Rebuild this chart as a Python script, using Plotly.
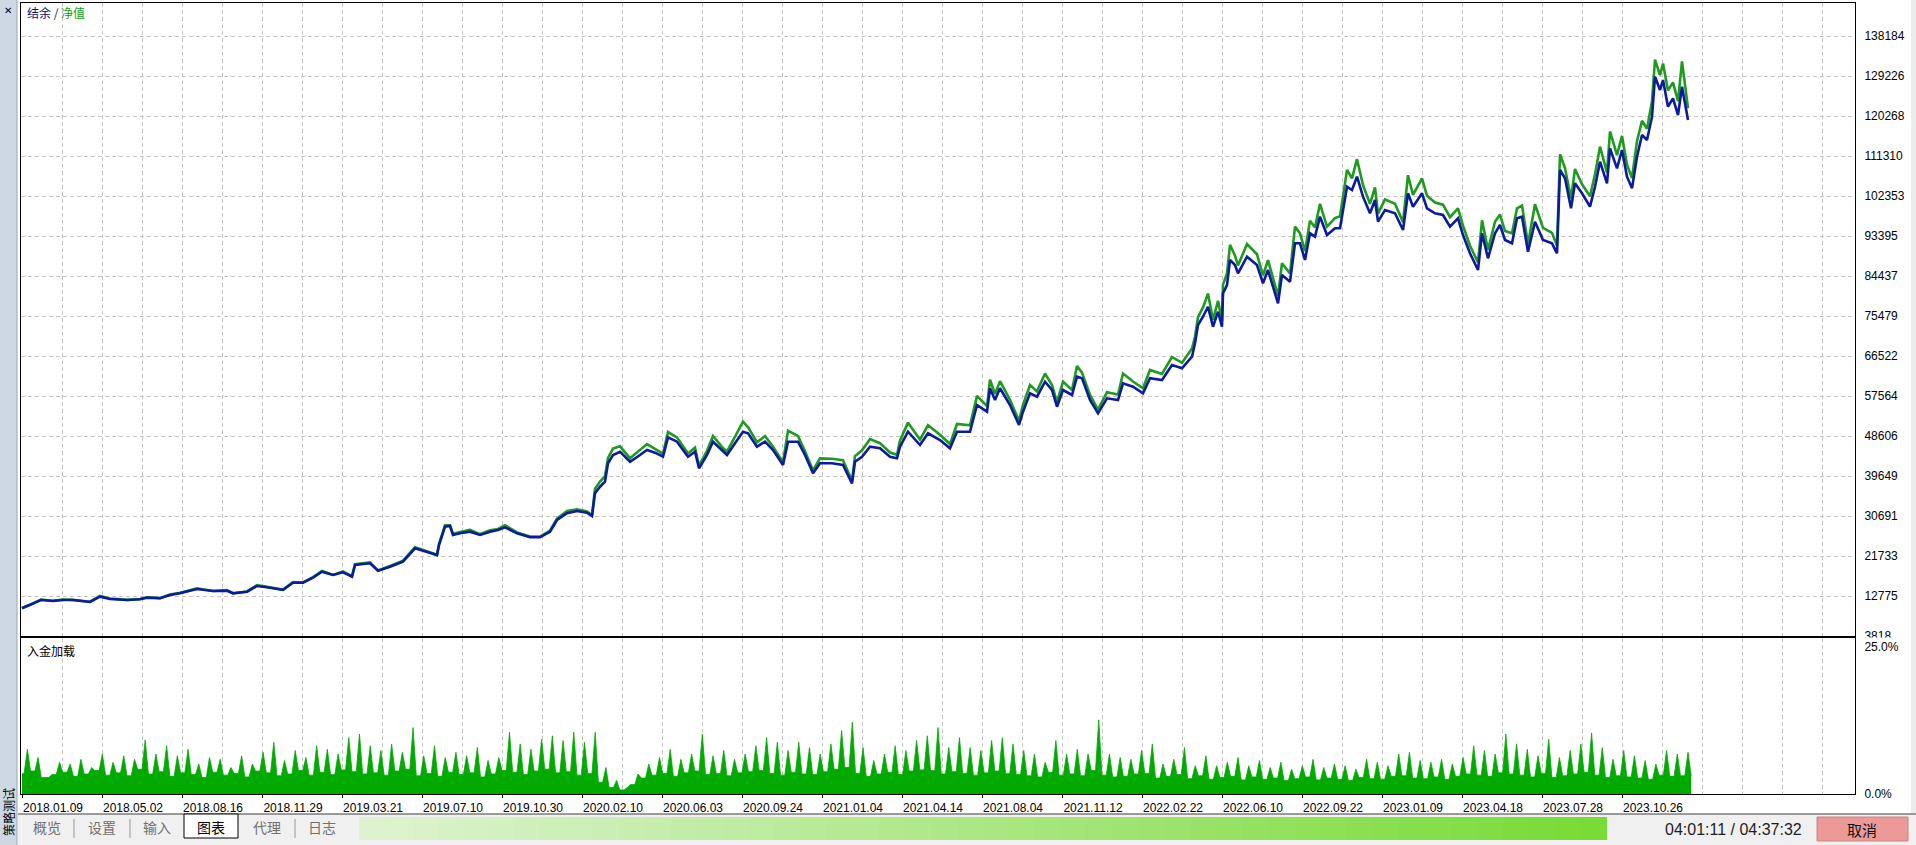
import plotly.graph_objects as go

W, H = 1916, 845


def px(x):
    return x / W


def py(y):
    return 1 - y / H


# ---------------- data ----------------
date_labels = ["2018.01.09", "2018.05.02", "2018.08.16", "2018.11.29", "2019.03.21",
               "2019.07.10", "2019.10.30", "2020.02.10", "2020.06.03", "2020.09.24",
               "2021.01.04", "2021.04.14", "2021.08.04", "2021.11.12", "2022.02.22",
               "2022.06.10", "2022.09.22", "2023.01.09", "2023.04.18", "2023.07.28",
               "2023.10.26"]

y_labels = ["3818", "12775", "21733", "30691", "39649", "48606", "57564", "66522",
            "75479", "84437", "93395", "102353", "111310", "120268", "129226", "138184"]

load_labels = ["0.0%", "25.0%"]

# test step (position along the test) of each sample
steps = [
    1, 9, 20, 32, 42, 52, 69, 79, 89, 106, 119, 126, 139, 149, 159, 176, 192, 206, 212, 226,
    236, 246, 262, 272, 282, 292, 301, 312, 322, 331, 334, 349, 357, 369, 382, 394, 406, 416, 418, 424,
    429,
    432, 439, 449, 459, 469, 477, 484, 496, 509, 519, 529, 536, 546, 556, 566, 571, 574, 579, 584, 587,
    592, 599, 609, 619, 626, 634, 642, 647, 656, 667, 674, 678, 686, 692, 702, 706, 714, 722, 727, 736,
    744, 752, 762, 767, 777, 784, 792, 799, 811, 822, 831, 834, 841,
    849, 859, 869, 876, 879, 887, 899, 907, 919, 929, 936, 949, 956, 966, 969, 974, 979, 989, 998, 1002,
    1009, 1016, 1024, 1031, 1036, 1042, 1051, 1056, 1061, 1069, 1077, 1086, 1097, 1102, 1112, 1122, 1129, 1141, 1151, 1161,
    1171, 1174, 1177, 1182, 1187, 1192, 1197, 1201, 1202, 1206, 1209, 1214, 1217, 1226, 1236, 1242, 1247, 1257, 1261, 1269,
    1274, 1279, 1284, 1289, 1294, 1299, 1306, 1314, 1319, 1326, 1331, 1336, 1342, 1349, 1354, 1357, 1364, 1374, 1382, 1387,
    1392, 1401, 1406, 1414, 1422, 1429, 1437, 1442, 1449, 1457, 1461, 1467, 1474, 1479, 1484, 1491, 1496, 1501, 1507, 1514,
    1522, 1531, 1536, 1539, 1544, 1550, 1554, 1561, 1569, 1574, 1579, 1586, 1589, 1596, 1601, 1606, 1611, 1616, 1621, 1626,
    1631, 1634, 1639, 1642, 1647, 1652, 1657, 1661, 1664, 1667,
]

# balance (thousands)
balance_k = [
    10.02, 10.76, 11.88, 11.66, 11.88, 11.88, 11.43, 12.62, 12.10, 11.88, 12.04, 12.40, 12.26, 13.00, 13.38, 14.34, 13.90, 13.96, 13.38, 13.74,
    15.02, 14.72, 14.12, 15.75, 15.75, 16.87, 18.22, 17.48, 18.08, 17.10, 19.72, 20.10, 18.44, 19.34, 20.46, 23.46, 22.70, 21.96, 24.20, 28.30,
    28.45,
    26.44, 26.82, 27.18, 26.44, 27.18, 27.56, 28.16, 26.82, 25.92, 25.92, 27.18, 29.80, 31.30, 31.81, 31.43, 30.69, 35.77, 37.25, 38.37, 42.49,
    44.35, 45.09, 42.85, 44.35, 45.47, 44.87, 43.97, 48.31, 47.33, 43.97, 45.09, 41.37, 44.35, 47.33, 45.09, 44.35, 46.97, 49.57, 49.21, 46.21,
    47.33, 45.47, 42.11, 47.33, 47.33, 44.35, 40.25, 42.49, 42.49, 42.11, 38.01, 42.85, 43.97,
    46.21, 45.85, 43.97, 43.61, 46.21, 49.57, 46.59, 49.21, 47.71, 45.85, 49.57, 49.57, 55.55, 54.05, 59.29, 56.67, 59.29, 55.55, 51.07, 54.05,
    58.17, 57.41, 60.77, 58.91, 55.17, 58.91, 57.79, 61.89, 61.53, 56.67, 53.69, 57.05, 56.67, 60.41, 59.65, 58.17, 61.53, 61.15, 64.51, 63.77,
    66.37, 69.37, 73.47, 75.32, 77.56, 73.08, 76.44, 73.08, 80.56, 82.42, 88.02, 86.90, 85.04, 88.76, 86.90, 82.80, 85.78, 78.33, 84.66, 83.16,
    91.76, 91.76, 88.02, 94.00, 93.24, 97.72, 93.62, 95.12, 95.12, 104.43, 103.70, 106.68, 102.20, 98.48, 101.46, 96.60, 99.22, 98.48, 94.74, 102.95,
    99.96, 102.95, 99.60, 98.48, 98.10, 95.48, 97.36, 93.62, 89.52, 85.78, 94.00, 88.40, 94.00, 95.86, 92.50, 91.76, 97.36, 97.72, 89.88, 96.60,
    92.50, 91.76, 89.52, 108.18, 106.32, 99.60, 105.19, 102.95, 99.96, 104.43, 110.03, 105.19, 113.03, 108.55, 112.65, 106.68, 104.07, 111.15, 116.01, 114.89,
    120.11, 129.07, 126.09, 128.33, 122.35, 124.23, 120.49, 126.83, 123.11, 119.37,
]

# equity (thousands)
equity_k = [
    10.1, 10.8, 12.0, 11.7, 12.0, 11.9, 11.5, 12.8, 12.2, 11.9, 12.1, 12.5, 12.3, 13.1, 13.5, 14.5, 13.9, 14.1, 13.4, 13.8,
    15.2, 14.8, 14.2, 15.9, 15.8, 17.0, 18.4, 17.5, 18.3, 17.2, 19.9, 20.3, 18.5, 19.5, 20.7, 23.7, 22.8, 22.0, 24.4, 28.6,
    28.6,
    26.7, 27.1, 27.6, 26.6, 27.5, 27.8, 28.6, 27.0, 26.1, 26.1, 27.4, 30.1, 31.8, 32.2, 31.7, 30.9, 36.8, 38.4, 39.6, 43.7,
    45.8, 46.3, 43.6, 45.5, 46.8, 45.7, 44.6, 49.5, 48.3, 44.7, 46.0, 42.0, 45.3, 48.6, 45.9, 45.1, 48.3, 51.8, 50.6, 47.2,
    48.6, 46.2, 42.8, 49.8, 48.6, 45.2, 40.9, 43.6, 43.5, 43.2, 38.6, 44.1, 45.4,
    47.9, 47.0, 44.9, 44.4, 47.6, 51.6, 47.8, 51.0, 48.9, 46.8, 51.3, 51.0, 57.6, 55.3, 61.2, 58.0, 60.9, 56.7, 52.0, 55.6,
    60.0, 58.6, 62.6, 60.0, 56.2, 60.8, 58.9, 64.3, 62.8, 57.8, 54.5, 58.4, 57.9, 62.6, 60.8, 59.3, 63.4, 62.5, 66.3, 65.0,
    68.2, 70.9, 75.2, 77.4, 80.5, 74.6, 78.9, 74.4, 82.5, 85.0, 91.4, 89.0, 86.8, 91.6, 89.3, 84.6, 88.0, 80.0, 87.3, 85.0,
    95.5, 94.0, 90.0, 96.8, 95.3, 100.6, 95.5, 97.4, 97.8, 108.2, 106.3, 110.6, 104.8, 100.6, 104.3, 98.4, 101.6, 100.6, 96.5, 107.0,
    102.6, 106.3, 102.4, 100.9, 100.4, 97.6, 99.6, 95.7, 91.2, 87.5, 96.9, 90.3, 96.6, 98.2, 94.5, 94.0, 99.6, 100.2, 91.6, 100.5,
    95.2, 94.1, 91.2, 111.7, 108.6, 101.8, 108.4, 105.0, 102.3, 107.2, 113.4, 107.6, 116.8, 111.5, 115.8, 109.3, 106.4, 114.6, 119.2, 117.4,
    123.6, 132.9, 129.4, 132.0, 126.0, 127.8, 123.6, 132.5, 127.0, 122.0,
]

# deposit load (%), local peaks and the base level between them, along the test
load_peaks = [
    7.6, 6.2, 2.8, 5.4, 5.1, 5.9, 4.5, 6.8, 5.4, 6.5,
    5.9, 9.2, 6.8, 8.2, 6.5, 7.6, 5.1, 6.2, 5.9, 4.5,
    6.5, 5.1, 7.1, 8.8, 5.7, 7.4, 6.2, 8.2, 7.6, 6.8,
    9.6, 10.2, 8.2, 7.4, 8.5, 7.1, 11.3, 6.5, 8.2, 6.2,
    7.1, 6.5, 7.9, 5.7, 6.2, 10.5, 8.5, 7.6, 9.3, 9.9,
    9.1, 10.5, 8.8, 10.5, 4.5, 2.3, 1.1, 3.4, 5.1, 6.2,
    7.6, 5.9, 6.8, 10.2, 6.5, 7.4, 5.9, 6.8, 8.2, 9.6,
    8.8, 7.4, 8.8, 7.9, 6.8, 8.5, 10.8, 12.2, 7.9, 5.7,
    6.8, 8.2, 7.4, 9.1, 9.9, 11.3, 7.9, 9.6, 7.9, 7.4,
    9.1, 9.6, 8.5, 7.4, 6.8, 5.4, 9.1, 6.8, 7.6, 6.8,
    12.6, 6.8, 6.2, 5.9, 7.4, 8.5, 5.1, 5.9, 7.9, 4.8,
    6.5, 4.8, 5.4, 6.2, 4.8, 5.7, 4.5, 5.4, 4.2, 4.8,
    5.9, 4.5, 5.1, 4.8, 4.2, 5.9, 5.4, 4.8, 6.8, 7.1,
    5.7, 5.4, 5.9, 5.1, 6.2, 8.2, 7.4, 6.8, 10.2, 8.5,
    7.6, 6.5, 9.3, 6.2, 7.4, 8.5, 10.4, 7.9, 5.9, 7.4,
    6.5, 5.7, 5.1, 7.4, 6.8, 7.1,
]
load_troughs = [
    3.5, 3.9, 2.8, 3.3, 3.7, 3.0, 3.4, 4.0, 3.2, 3.6,
    3.1, 4.2, 3.4, 3.8, 3.0, 3.6, 3.3, 2.8, 3.7, 3.2,
    3.5, 2.9, 3.9, 3.6, 3.1, 3.4, 4.0, 3.2, 3.7, 3.3,
    4.1, 3.8, 3.4, 3.6, 3.2, 3.9, 4.2, 3.1, 3.5, 3.0,
    3.7, 3.3, 3.6, 2.9, 3.4, 4.0, 3.7, 3.3, 3.9, 4.2,
    3.6, 3.8, 3.2, 3.5, 2.0, 1.1, 0.7, 1.6, 2.7, 3.2,
    3.5, 3.0, 3.6, 3.9, 3.3, 3.5, 3.1, 3.6, 3.8, 4.0,
    3.5, 3.2, 3.7, 3.4, 3.3, 3.8, 4.2, 4.5, 3.5, 3.0,
    3.4, 3.7, 3.3, 3.9, 4.1, 4.0, 3.4, 3.8, 3.5, 3.2,
    3.6, 3.9, 3.5, 3.3, 3.1, 2.9, 3.7, 3.2, 3.4, 3.1,
    4.0, 3.2, 2.9, 3.0, 3.4, 3.5, 2.7, 3.0, 3.3, 2.6,
    3.1, 2.5, 2.8, 3.0, 2.4, 2.9, 2.5, 2.7, 2.3, 2.6,
    2.9, 2.4, 2.7, 2.5, 2.3, 2.8, 2.6, 2.5, 3.0, 3.1,
    2.7, 2.6, 2.9, 2.5, 3.0, 3.4, 3.2, 3.0, 3.6, 3.4,
    3.2, 2.9, 3.5, 2.8, 3.1, 3.4, 3.7, 3.2, 2.8, 3.1,
    2.9, 2.7, 2.5, 3.2, 3.0, 3.1,
]

# ---------------- derived series ----------------
balance = [v * 1000 for v in balance_k]
equity = [v * 1000 for v in equity_k]
y_ticks = [int(s) for s in y_labels]

# deposit-load outline: base level in each window with a narrow spike to the window's peak
n_load = min(len(load_peaks), len(load_troughs))
win = (steps[-1] - steps[0]) / (n_load - 0.5)
half_spike = 0.3 * win
load_x, load_y = [], []
for i in range(n_load):
    x0 = steps[0] + i * win
    xp = x0 + win / 2
    nxt = load_troughs[i + 1] if i + 1 < n_load else load_troughs[i]
    load_x += [x0, xp - half_spike, xp, xp + half_spike]
    load_y += [load_troughs[i], load_troughs[i], load_peaks[i], nxt]

# ---------------- layout constants ----------------
PLOT_L, PLOT_R = 21, 1855
MAIN_T, MAIN_B = 3, 636
LOAD_T, LOAD_B = 638, 794
X_RANGE = [0, PLOT_R - PLOT_L]
GRID_STEP = 40
LABEL_STEP = 80
major_x = [1 + LABEL_STEP * k for k in range(len(date_labels))]
all_grid = [1 + GRID_STEP * j for j in range(int((X_RANGE[1] - 1) / GRID_STEP) + 1)]
minor_x = [v for v in all_grid if v not in major_x]

y_step = (y_ticks[-1] - y_ticks[0]) / (len(y_ticks) - 1)
y_top = y_ticks[0] + (MAIN_B - MAIN_T) / GRID_STEP * y_step
LOAD_TOP = 25 * (LOAD_B - LOAD_T) / (LOAD_B - 647)

GRID_COLOR = "#c6c6c6"
GRID_DASH = "4px,3px"
TICK_FONT = dict(family="Liberation Sans, Arial, sans-serif", size=12, color="#000000")
CJK = "Noto Sans CJK SC, sans-serif"

BLUE = "#0b1a9e"
GREEN_LINE = "#1e9a1e"
GREEN_FILL = "#00aa00"

fig = go.Figure()

fig.add_trace(go.Scatter(x=steps, y=equity, mode="lines", name="净值",
                         line=dict(color=GREEN_LINE, width=2.6), xaxis="x", yaxis="y",
                         hoverinfo="skip"))
fig.add_trace(go.Scatter(x=steps, y=balance, mode="lines", name="结余",
                         line=dict(color=BLUE, width=2.6), xaxis="x", yaxis="y",
                         hoverinfo="skip"))
fig.add_trace(go.Scatter(x=load_x, y=load_y, mode="lines", name="入金加载",
                         line=dict(color=GREEN_FILL, width=0.8), fill="tozeroy",
                         fillcolor=GREEN_FILL, xaxis="x2", yaxis="y2", hoverinfo="skip"))

axis_common = dict(showline=True, mirror=True, linecolor="#000000", linewidth=1,
                   zeroline=False, fixedrange=True, automargin=False)

fig.update_layout(
    width=W, height=H, autosize=False,
    margin=dict(l=0, r=0, t=0, b=0),
    paper_bgcolor="#ffffff", plot_bgcolor="#ffffff",
    showlegend=False, hovermode=False,
    font=TICK_FONT,
    xaxis=dict(domain=[px(PLOT_L), px(PLOT_R)], range=X_RANGE, anchor="y",
               tickmode="array", tickvals=major_x, showticklabels=False, ticks="",
               showgrid=True, gridcolor=GRID_COLOR, griddash=GRID_DASH, gridwidth=1,
               minor=dict(tickvals=minor_x, showgrid=True, gridcolor=GRID_COLOR,
                          griddash=GRID_DASH, gridwidth=1, ticks=""),
               **axis_common),
    yaxis=dict(domain=[py(MAIN_B), py(MAIN_T)], range=[y_ticks[0], y_top], anchor="x",
               side="right", tickmode="array", tickvals=y_ticks, ticktext=y_labels,
               ticks="", ticklabelstandoff=6, tickfont=TICK_FONT,
               showgrid=True, gridcolor=GRID_COLOR, griddash=GRID_DASH, gridwidth=1,
               **axis_common),
    xaxis2=dict(domain=[px(PLOT_L), px(PLOT_R)], range=X_RANGE, anchor="y2",
                tickmode="array", tickvals=major_x, ticktext=date_labels,
                ticks="outside", ticklen=3, tickcolor="#000000",
                ticklabelshift=31, ticklabelstandoff=0, tickfont=TICK_FONT,
                showgrid=True, gridcolor=GRID_COLOR, griddash=GRID_DASH, gridwidth=1,
                minor=dict(tickvals=minor_x, showgrid=True, gridcolor=GRID_COLOR,
                           griddash=GRID_DASH, gridwidth=1, ticks=""),
                **axis_common),
    yaxis2=dict(domain=[py(LOAD_B), py(LOAD_T)], range=[0, LOAD_TOP], anchor="x2",
                side="right", tickmode="array", tickvals=[0, 25], ticktext=load_labels,
                ticks="", ticklabelstandoff=6, tickfont=TICK_FONT, showgrid=False,
                **axis_common),
)

shapes = []
ann = []


def rect(x0, y0, x1, y1, fill, line=None, lw=0, layer="above"):
    shapes.append(dict(type="rect", xref="paper", yref="paper",
                       x0=px(x0), x1=px(x1), y0=py(y1), y1=py(y0),
                       fillcolor=fill, line=dict(color=line or fill, width=lw),
                       layer=layer))


def hline(x0, x1, y, color, w=1):
    shapes.append(dict(type="line", xref="paper", yref="paper",
                       x0=px(x0), x1=px(x1), y0=py(y), y1=py(y),
                       line=dict(color=color, width=w), layer="above"))


def vline(x, y0, y1, color, w=1):
    shapes.append(dict(type="line", xref="paper", yref="paper",
                       x0=px(x), x1=px(x), y0=py(y0), y1=py(y1),
                       line=dict(color=color, width=w), layer="above"))


def text(x, y, s, size=12, color="#000000", family=CJK, xanchor="center", angle=0):
    ann.append(dict(x=px(x), y=py(y), xref="paper", yref="paper", text=s,
                    showarrow=False, xanchor=xanchor, yanchor="middle", textangle=angle,
                    font=dict(family=family, size=size, color=color)))


# clip the lower half of the lowest price label, as in the terminal
rect(1856, 637.5, 1912, 641, "#ffffff")

# left side bar
rect(0, 0, 17, 845, "#cdd8e4")
vline(17, 0, 845, "#9aa6b4")
text(8, 10, "✕", size=10, color="#000000")
text(8, 812, "策略测试", size=12, color="#000000", angle=-90)

# right strip
rect(1911, 0, 1916, 813, "#ececec")

# tab bar
rect(18, 814, 1916, 845, "#f0f0f0")
hline(18, 1916, 814, "#3c3c3c")
rect(184, 814, 238, 838, "#ffffff", line="#000000", lw=1)
for sx in [74, 130, 295]:
    vline(sx, 819, 838, "#9a9a9a")
tabs = [("概览", 47), ("设置", 102), ("输入", 157), ("图表", 211), ("代理", 267), ("日志", 322)]
for name, cx in tabs:
    text(cx, 827, name, size=14, color="#000000" if name == "图表" else "#707070")

# progress bar (stepped gradient)
PB_L, PB_R, PB_T, PB_B = 359, 1607, 817, 840
c0, c1 = (222, 242, 208), (120, 219, 54)
n_steps = 48
for i in range(n_steps):
    t = i / (n_steps - 1)
    col = "rgb(%d,%d,%d)" % tuple(round(c0[k] + (c1[k] - c0[k]) * t) for k in range(3))
    xa = PB_L + (PB_R - PB_L) * i / n_steps
    xb = PB_L + (PB_R - PB_L) * (i + 1) / n_steps + 0.6
    rect(xa, PB_T, min(xb, PB_R), PB_B, col)

text(1733, 829, "04:01:11 / 04:37:32", size=16, color="#1e1e1e",
     family="Liberation Sans, Arial, sans-serif")
rect(1817, 817, 1908, 841, "#ec9a98", line="#c98483", lw=1)
text(1862, 829, "取消", size=15, color="#101010")

# panel titles
text(25, 13, '<span style="color:#10106e">结余 / </span><span style="color:#13a013">净值</span>',
     size=12, xanchor="left")
text(25, 650, "入金加载", size=12, color="#000000", xanchor="left")

fig.update_layout(shapes=shapes, annotations=ann)

fig.write_html("out.html", config={"displayModeBar": False, "staticPlot": True},
               post_script="document.body.style.margin='0';document.body.style.overflow='hidden';")
